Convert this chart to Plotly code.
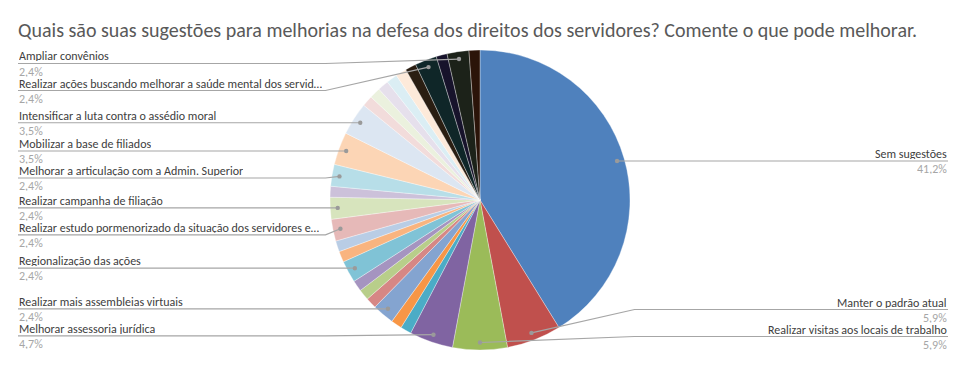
import math
import plotly.graph_objects as go

# ---------------- data ----------------
title_text = "Quais são suas sugestões para melhorias na defesa dos direitos dos servidores? Comente o que pode melhorar."

categories = [
    "Sem sugestões",
    "Manter o padrão atual",
    "Realizar visitas aos locais de trabalho",
    "Melhorar assessoria jurídica",
    "Outra sugestão 1",
    "Outra sugestão 2",
    "Realizar mais assembleias virtuais",
    "Outra sugestão 3",
    "Outra sugestão 4",
    "Outra sugestão 5",
    "Regionalização das ações",
    "Outra sugestão 6",
    "Outra sugestão 7",
    "Realizar estudo pormenorizado da situação dos servidores e…",
    "Realizar campanha de filiação",
    "Outra sugestão 8",
    "Melhorar a articulação com a Admin. Superior",
    "Mobilizar a base de filiados",
    "Intensificar a luta contra o assédio moral",
    "Outra sugestão 9",
    "Outra sugestão 10",
    "Outra sugestão 11",
    "Outra sugestão 12",
    "Outra sugestão 13",
    "Outra sugestão 14",
    "Realizar ações buscando melhorar a saúde mental dos servid…",
    "Outra sugestão 15",
    "Ampliar convênios",
    "Outra sugestão 16",
]

counts = [35, 5, 5, 4, 1, 1, 2, 1, 1, 1, 2, 1, 1, 2, 2, 1, 2, 3, 3,
          1, 1, 1, 1, 1, 1, 2, 1, 2, 1]

show_label = [True, True, True, True, False, False, True, False, False, False,
              True, False, False, True, True, False, True, True, True,
              False, False, False, False, False, False, True, False, True, False]

colors = [
    "#4F81BD", "#C0504D", "#9BBB59", "#8064A2", "#4BACC6", "#F79646",
    "#84A4D0", "#D68785", "#B8CE8A", "#A594C0", "#80C3D6", "#F9B47F",
    "#B9CDE5", "#E6B9B8", "#D7E4BD", "#CCC1DA", "#B7DEE8", "#FCD5B5",
    "#DCE6F2", "#F2DCDB", "#EBF1DE", "#E6E0EC", "#DBEEF4", "#FDEADA",
    "#2A1E12", "#0F2628", "#17132B", "#1C2219", "#2B1409",
]

# ---------------- layout geometry ----------------
W, H = 960, 369
M_T, M_B, M_L, M_R = 50, 19, 0, 0
PW, PH = W - M_L - M_R, H - M_T - M_B
R = min(PW, PH) / 2.0
CX, CY = M_L + PW / 2.0, M_T + PH / 2.0
DOT_R = 0.95 * R
ELBOW = 1.03 * R
GAP = 27
TOP_LIMIT = CY - 0.91 * R
BOTTOM_LIMIT = CY + 0.91 * R
LEFT_X, RIGHT_X = 18, W - 12
LINE_COL = "#A6A6A6"
FONT = "Carlito, Calibri, Lato, Liberation Sans, sans-serif"


def px(x):
    return (x - M_L) / PW


def py(y):
    return (H - M_B - y) / PH


total = sum(counts)
items = []
cum = 0.0
for name, v, show in zip(categories, counts, show_label):
    a0 = cum / total * 360
    cum += v
    a1 = cum / total * 360
    mid_deg = (a0 + a1) / 2
    mid = math.radians(mid_deg)
    dx = CX + DOT_R * math.sin(mid)
    dy = CY - DOT_R * math.cos(mid)
    if show:
        items.append(dict(name=name, v=v, dx=dx, dy=dy,
                          side="right" if mid_deg <= 180.5 else "left"))


def place(group):
    group.sort(key=lambda d: d["dy"])
    prev = TOP_LIMIT - GAP
    for d in group:
        d["ly"] = max(d["dy"], prev + GAP)
        prev = d["ly"]
    limit = BOTTOM_LIMIT
    for d in reversed(group):
        d["ly"] = min(d["ly"], limit)
        limit = d["ly"] - GAP


left = [d for d in items if d["side"] == "left"]
right = [d for d in items if d["side"] == "right"]
place(left)
place(right)

fig = go.Figure(go.Pie(
    labels=categories,
    values=counts,
    sort=False,
    direction="clockwise",
    rotation=0,
    textinfo="none",
    hoverinfo="label+percent",
    marker=dict(colors=colors, line=dict(color="rgba(255,255,255,0.55)", width=0.6)),
    domain=dict(x=[0, 1], y=[0, 1]),
    showlegend=False,
))

shapes = []
annotations = []
for d in left + right:
    pct = f"{d['v'] / total * 100:.1f}".replace(".", ",") + "%"
    if d["side"] == "left":
        xs, xe, anchor = LEFT_X, CX - ELBOW, "left"
    else:
        xs, xe, anchor = RIGHT_X, CX + ELBOW, "right"
    path = (f"M {px(xs)} {py(d['ly'])} L {px(xe)} {py(d['ly'])} "
            f"L {px(d['dx'])} {py(d['dy'])}")
    shapes.append(dict(type="path", xref="paper", yref="paper", path=path,
                       line=dict(color=LINE_COL, width=1.2)))
    rr = 2.2
    shapes.append(dict(type="circle", xref="paper", yref="paper",
                       x0=px(d["dx"] - rr), x1=px(d["dx"] + rr),
                       y0=py(d["dy"] + rr), y1=py(d["dy"] - rr),
                       fillcolor="#9A9A9A", line=dict(width=0)))
    annotations.append(dict(xref="paper", yref="paper", x=px(xs), y=py(d["ly"] - 1),
                            xanchor=anchor, yanchor="bottom", text=d["name"],
                            showarrow=False, borderpad=0, height=11,
                            font=dict(family=FONT, size=12, color="#404040")))
    annotations.append(dict(xref="paper", yref="paper", x=px(xs), y=py(d["ly"] + 1),
                            xanchor=anchor, yanchor="top", text=pct,
                            showarrow=False, borderpad=0, height=11,
                            font=dict(family=FONT, size=12, color="#A6A6A6")))

fig.update_layout(
    width=W, height=H,
    margin=dict(t=M_T, b=M_B, l=M_L, r=M_R),
    paper_bgcolor="white", plot_bgcolor="white",
    title=dict(text=title_text, x=LEFT_X / W, xanchor="left", xref="container",
               y=1 - 30 / H, yanchor="middle", yref="container",
               font=dict(family=FONT, size=20, color="#595959")),
    shapes=shapes,
    annotations=annotations,
)

fig.write_html("out.html", config={"displayModeBar": False},
               post_script="document.body.style.margin='0';")
